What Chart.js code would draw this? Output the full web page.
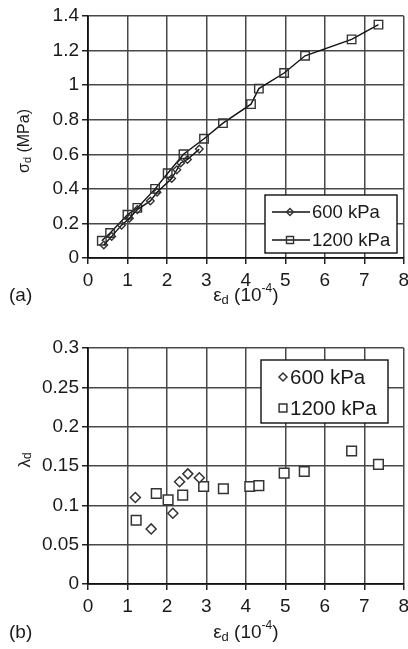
<!DOCTYPE html>
<html>
<head>
<meta charset="utf-8">
<script src="https://cdn.jsdelivr.net/npm/chart.js@4.4.1/dist/chart.umd.min.js"></script>
<style>
  html, body { margin: 0; padding: 0; background: #fff; overflow: hidden; }
  #wrapA { position: absolute; left: 0; top: 0; width: 414px; height: 320px; }
  #wrapB { position: absolute; left: 0; top: 320px; width: 414px; height: 329px; }
</style>
</head>
<body>
<div id="wrapA"><canvas id="chartA"></canvas></div>
<div id="wrapB"><canvas id="chartB"></canvas></div>
<script>
// (a) deviator stress vs deviator strain
const strainA600 = [0.4, 0.6, 0.85, 1.05, 1.25, 1.58, 1.75, 2.12, 2.25, 2.35, 2.52, 2.82];
const stressA600 = [0.075, 0.125, 0.19, 0.23, 0.28, 0.33, 0.38, 0.46, 0.51, 0.55, 0.57, 0.63];
const strainA1200 = [0.35, 0.56, 1.0, 1.25, 1.7, 2.02, 2.42, 2.94, 3.42, 4.13, 4.33, 4.97, 5.5, 6.68, 7.36];
const stressA1200 = [0.1, 0.145, 0.25, 0.29, 0.4, 0.49, 0.6, 0.69, 0.78, 0.89, 0.98, 1.07, 1.17, 1.265, 1.35];

// (b) damping ratio vs deviator strain
const strainB600 = [1.2, 1.6, 2.15, 2.32, 2.53, 2.82];
const dampB600 = [0.11, 0.07, 0.09, 0.13, 0.14, 0.135];
const strainB1200 = [1.22, 1.73, 2.03, 2.4, 2.93, 3.43, 4.1, 4.33, 4.97, 5.48, 6.68, 7.36];
const dampB1200 = [0.081, 0.115, 0.107, 0.113, 0.124, 0.121, 0.124, 0.125, 0.141, 0.143, 0.169, 0.152];

const seriesNames = ['600 kPa', '1200 kPa'];
const xTicks = [0, 1, 2, 3, 4, 5, 6, 7, 8];

const FONT = '"Liberation Sans", Arial, sans-serif';
const INK = '#1a1a1a';

function toPoints(xs, ys) {
    return xs.map((x, i) => ({ x: x, y: ys[i] }));
}

// text made of parts, for subscripts and superscripts
function drawRichText(ctx, parts, x, y, align) {
    let total = 0;
    parts.forEach(p => {
        ctx.font = p.size + 'px ' + FONT;
        p.w = ctx.measureText(p.t).width;
        total += p.w;
    });
    let cx = align === 'center' ? x - total / 2 : x;
    parts.forEach(p => {
        ctx.font = p.size + 'px ' + FONT;
        ctx.fillText(p.t, cx, y + (p.dy || 0));
        cx += p.w;
    });
}

const decorPlugin = {
    id: 'decor',
    afterDraw(chart, args, opts) {
        const ctx = chart.ctx;
        const area = chart.chartArea;
        ctx.save();
        ctx.fillStyle = INK;
        ctx.textBaseline = 'middle';
        ctx.textAlign = 'left';

        // x axis title
        drawRichText(ctx, [
            { t: '\u03b5', size: 19 },
            { t: 'd', size: 13, dy: 4 },
            { t: ' (10', size: 19 },
            { t: '-4', size: 12, dy: -7 },
            { t: ')', size: 19 }
        ], (area.left + area.right) / 2, opts.xTitleY, 'center');

        // panel letter
        ctx.font = '19px ' + FONT;
        ctx.fillText(opts.panel, 9, opts.xTitleY);

        // y axis title (rotated)
        ctx.save();
        ctx.translate(opts.yTitleX, (area.top + area.bottom) / 2 + opts.yTitleShift);
        ctx.rotate(-Math.PI / 2);
        drawRichText(ctx, opts.yTitle, 0, 0, 'center');
        ctx.restore();

        // legend box inside the plot
        const lg = opts.legend;
        ctx.fillStyle = '#fff';
        ctx.fillRect(lg.x, lg.y, lg.w, lg.h);
        ctx.strokeStyle = '#111';
        ctx.lineWidth = 1.4;
        ctx.strokeRect(lg.x, lg.y, lg.w, lg.h);
        chart.data.datasets.forEach((ds, i) => {
            const rowY = lg.y + lg.rows[i];
            if (ds.showLine) {
                ctx.strokeStyle = '#111';
                ctx.lineWidth = 1.4;
                ctx.beginPath();
                ctx.moveTo(lg.x + lg.lineFrom, rowY);
                ctx.lineTo(lg.x + lg.lineTo, rowY);
                ctx.stroke();
            }
            ctx.strokeStyle = ds.pointBorderColor;
            ctx.fillStyle = ds.pointBackgroundColor;
            ctx.lineWidth = ds.pointBorderWidth;
            Chart.helpers.drawPoint(ctx, {
                pointStyle: ds.pointStyle,
                radius: lg.markerRadius[i],
                rotation: 0,
                borderWidth: ds.pointBorderWidth
            }, lg.x + lg.marker, rowY);
            ctx.fillStyle = INK;
            ctx.font = lg.fontSize + 'px ' + FONT;
            ctx.textAlign = 'left';
            ctx.fillText(ds.label, lg.x + lg.text, rowY + 1);
        });
        ctx.restore();
    }
};

function axisOptions(yMax, yStep, yWidth, xHeight) {
    const gridStyle = { color: '#484848', lineWidth: 1.5, tickLength: 6, tickColor: '#222' };
    return {
        x: {
            type: 'linear',
            min: 0,
            max: 8,
            afterBuildTicks(scale) {
                scale.ticks = xTicks.map(v => ({ value: v }));
            },
            afterFit(scale) { scale.height = xHeight; },
            grid: gridStyle,
            border: { color: '#111', width: 1.8 },
            ticks: { color: INK, font: { family: FONT, size: 19 }, padding: 5, maxRotation: 0 }
        },
        y: {
            type: 'linear',
            min: 0,
            max: yMax,
            afterFit(scale) { scale.width = yWidth; },
            grid: gridStyle,
            border: { color: '#111', width: 1.8 },
            ticks: {
                color: INK,
                font: { family: FONT, size: 19 },
                padding: 3,
                stepSize: yStep,
                callback: v => String(parseFloat(v.toFixed(3)))
            }
        }
    };
}

const chartA = new Chart(document.getElementById('chartA'), {
    type: 'scatter',
    data: {
        datasets: [{
            label: seriesNames[0],
            data: toPoints(strainA600, stressA600),
            showLine: true,
            borderColor: '#111',
            borderWidth: 1.4,
            pointStyle: 'rectRot',
            pointRadius: 3.8,
            pointBorderColor: '#333',
            pointBackgroundColor: 'rgba(255,255,255,0)',
            pointBorderWidth: 1.4
        }, {
            label: seriesNames[1],
            data: toPoints(strainA1200, stressA1200),
            showLine: true,
            borderColor: '#111',
            borderWidth: 1.4,
            pointStyle: 'rect',
            pointRadius: 6,
            pointBorderColor: '#333',
            pointBackgroundColor: 'rgba(255,255,255,0)',
            pointBorderWidth: 1.4
        }]
    },
    options: {
        responsive: true,
        maintainAspectRatio: false,
        animation: false,
        layout: { padding: { top: 16, right: 9, left: 0, bottom: 0 } },
        scales: axisOptions(1.4, 0.2, 88, 62),
        plugins: {
            legend: { display: false },
            tooltip: { enabled: false },
            decor: {
                panel: '(a)',
                xTitleY: 296,
                yTitleX: 25,
                yTitleShift: 4,
                yTitle: [
                    { t: '\u03c3', size: 16 },
                    { t: 'd', size: 11, dy: 3 },
                    { t: ' (MPa)', size: 16 }
                ],
                legend: {
                    x: 265, y: 195, w: 132, h: 58, rows: [17, 45],
                    lineFrom: 7, lineTo: 45, marker: 25, text: 47,
                    fontSize: 18.5, markerRadius: [3.5, 5]
                }
            }
        }
    },
    plugins: [decorPlugin]
});

const chartB = new Chart(document.getElementById('chartB'), {
    type: 'scatter',
    data: {
        datasets: [{
            label: seriesNames[0],
            data: toPoints(strainB600, dampB600),
            showLine: false,
            pointStyle: 'rectRot',
            pointRadius: 5,
            pointBorderColor: '#333',
            pointBackgroundColor: '#fff',
            pointBorderWidth: 1.5
        }, {
            label: seriesNames[1],
            data: toPoints(strainB1200, dampB1200),
            showLine: false,
            pointStyle: 'rect',
            pointRadius: 6.8,
            pointBorderColor: '#333',
            pointBackgroundColor: '#fff',
            pointBorderWidth: 1.5
        }]
    },
    options: {
        responsive: true,
        maintainAspectRatio: false,
        animation: false,
        layout: { padding: { top: 28, right: 9, left: 0, bottom: 0 } },
        scales: axisOptions(0.3, 0.05, 88, 65),
        plugins: {
            legend: { display: false },
            tooltip: { enabled: false },
            decor: {
                panel: '(b)',
                xTitleY: 313,
                yTitleX: 25,
                yTitleShift: -6,
                yTitle: [
                    { t: '\u03bb', size: 17 },
                    { t: 'd', size: 12, dy: 3 }
                ],
                legend: {
                    x: 261, y: 40, w: 127, h: 63, rows: [17, 48],
                    marker: 22, text: 29,
                    fontSize: 20.5, markerRadius: [4, 5.5]
                }
            }
        }
    },
    plugins: [decorPlugin]
});
</script>
</body>
</html>
